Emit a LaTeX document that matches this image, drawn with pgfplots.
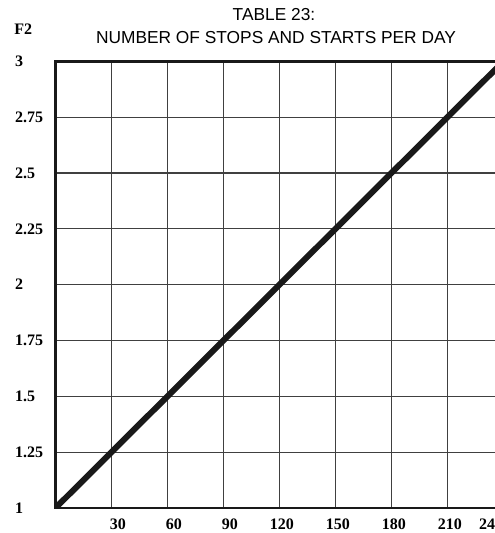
\documentclass[border=0pt]{standalone}
\usepackage{fontspec}
\setmainfont{Liberation Serif}
\newfontfamily\titlefont{Liberation Sans}
\usepackage{pgfplots}
\pgfplotsset{compat=1.18}
\begin{document}
\begin{tikzpicture}
\begin{axis}[
  at={(0pt,0pt)}, anchor=south west,
  scale only axis,
  width=336pt, height=335pt,
  xmin=0, xmax=240, ymin=1, ymax=3,
  xtick={30,60,90,120,150,180,210,240},
  xticklabels={30,60,90,120,150,180,210,{240\kern11pt}},
  ytick={1,1.25,1.5,1.75,2,2.25,2.5,2.75,3},
  yticklabels={1,1.25,1.5,1.75,2,2.25,2.5,2.75,3},
  major tick length=0pt,
  grid=major,
  major grid style={line width=0.9pt, color=black!75},
  axis line style={line width=2.2pt, color=black!90},
  ticklabel style={font=\fontsize{12}{14}\selectfont\bfseries, inner sep=0pt},
  xticklabel style={anchor=east, xshift=11pt, yshift=-12pt},
  yticklabel style={anchor=west, xshift=-30.4pt},
  clip=true,
]
\addplot[line width=4.5pt, color=black!90] coordinates {(0,1) (30,1.25) (60,1.5) (90,1.75) (120,2) (150,2.25) (180,2.5) (210,2.75) (240,3)};
\end{axis}
\node[font=\titlefont\fontsize{13}{15}\selectfont, anchor=center, inner sep=0pt] at (163.9pt,369.75pt) {TABLE 23:};
\node[font=\titlefont\fontsize{13}{15}\selectfont, anchor=center, inner sep=0pt] at (165.4pt,352.5pt) {NUMBER OF STOPS AND STARTS PER DAY};
\node[font=\fontsize{12}{14}\selectfont\bfseries, anchor=west, inner sep=0pt] at (-31.1pt,359.25pt) {F2};
\pgfresetboundingbox
\useasboundingbox (-41.6pt,-18.75pt) rectangle (328.9pt,381pt);
\end{tikzpicture}
\end{document}
